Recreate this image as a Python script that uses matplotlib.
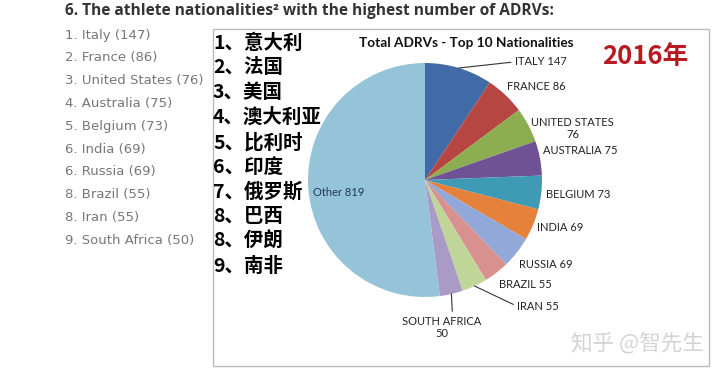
import matplotlib
matplotlib.use('Agg')
import matplotlib.pyplot as plt
import numpy as np
from matplotlib.patches import Rectangle

# data
countries = ['Italy', 'France', 'United States', 'Australia', 'Belgium',
             'India', 'Russia', 'Brazil', 'Iran', 'South Africa']
ranks = [1, 2, 3, 4, 5, 6, 6, 8, 8, 9]
adrvs = [147, 86, 76, 75, 73, 69, 69, 55, 55, 50]
other = 819
cn_names = ['意大利', '法国', '美国', '澳大利亚', '比利时', '印度', '俄罗斯', '巴西', '伊朗', '南非']
cn_ranks = [1, 2, 3, 4, 5, 6, 7, 8, 8, 9]
pie_labels = ['ITALY 147', 'FRANCE 86', 'UNITED STATES\n76', 'AUSTRALIA 75', 'BELGIUM 73',
              'INDIA 69', 'RUSSIA 69', 'BRAZIL 55', 'IRAN 55', 'SOUTH AFRICA\n50', 'Other 819']
colors = ['#406ba7', '#b74541', '#8dae50', '#6f5196', '#3e9ab5', '#e5813a',
          '#91a8d8', '#d8918f', '#c0d699', '#a99ac6', '#95c3d8']

W, H = 720, 375
fig = plt.figure(figsize=(W / 100, H / 100), dpi=100)
fig.patch.set_facecolor('white')


def px(x, y):
    return x / W, 1 - y / H


# header
fig.text(*px(65, 11), '6. The athlete nationalities² with the highest number of ADRVs:',
         fontsize=11.2, fontweight='bold', family='Open Sans', color='#333333', va='center')

# left grey list
for i, (r, c, v) in enumerate(zip(ranks, countries, adrvs)):
    fig.text(*px(65, 35 + i * 22.8), f'{r}. {c} ({v})', fontsize=9.5,
             family='DejaVu Sans', color='#777777', va='center')

# chart frame
fig.patches.append(Rectangle(px(213, 366), 496 / W, 337 / H, transform=fig.transFigure,
                             fill=False, edgecolor='#bbbbbb', lw=1))

# pie
ax = fig.add_axes([308 / W, 78 / H, 234 / W, 234 / H])
values = adrvs + [other]
wedges, _ = ax.pie(values, colors=colors, startangle=90, counterclock=False,
                   radius=1, wedgeprops=dict(linewidth=0))
ax.set_xlim(-1, 1)
ax.set_ylim(-1, 1)
ax.set_aspect('equal')
ax.axis('off')

# label positions (data units)
label_pos = [(0.77, 1.01), (0.70, 0.80), (1.26, 0.44), (1.01, 0.25), (1.03, -0.12),
             (0.96, -0.41), (0.80, -0.72), (0.63, -0.89), (0.79, -1.08), (0.14, -1.26),
             (-0.735, -0.11)]
leaders = {0: (0, 0.5), 8: (0, 0.5), 9: (0.64, 1)}
for i, (w, lab, pos) in enumerate(zip(wedges, pie_labels, label_pos)):
    ang = np.deg2rad((w.theta1 + w.theta2) / 2)
    ha = 'center' if '\n' in lab or i == 10 else 'left'
    kw = dict(fontsize=8, family='Lato', color='#222222' if i < 10 else '#1f3a5a',
              ha=ha, va='center', multialignment='center', annotation_clip=False)
    if i in leaders:
        ax.annotate(lab, xy=(np.cos(ang), np.sin(ang)), xytext=pos,
                    arrowprops=dict(arrowstyle='-', color='#333333', lw=0.8,
                                    relpos=leaders[i], shrinkA=1, shrinkB=0), **kw)
    else:
        ax.annotate(lab, xy=pos, **kw)

fig.text(*px(466, 43), 'Total ADRVs - Top 10 Nationalities',
         ha='center', va='center', fontsize=9.8, fontweight='bold', family='Lato', color='#111111')

# chinese list
for i, (r, n) in enumerate(zip(cn_ranks, cn_names)):
    fig.text(*px(213, 43 + i * 24.8), f'{r}、{n}', fontsize=14, fontweight='bold',
             family=['Noto Sans CJK SC', 'DejaVu Sans'], color='black', va='center')

fig.text(*px(645, 57), '2016年', fontsize=18.5, fontweight='bold',
         family=['Noto Sans CJK SC', 'DejaVu Sans'], color='#b81a21', ha='center', va='center')
fig.text(*px(637, 343), '知乎 @智先生', fontsize=15.5,
         family=['Noto Sans CJK SC', 'DejaVu Sans'], color='#d4d4d4', ha='center', va='center')

fig.savefig('out.png', dpi=100)
